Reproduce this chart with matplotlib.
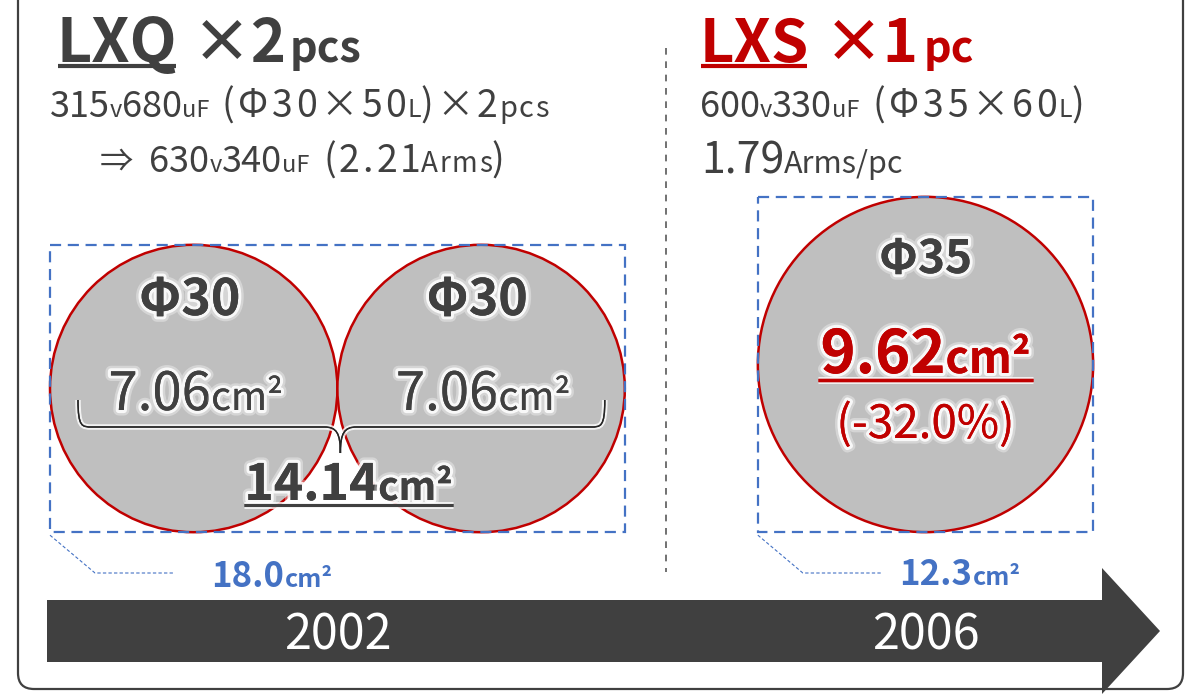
import matplotlib
matplotlib.use("Agg")
import matplotlib.pyplot as plt
import matplotlib.patheffects as pe
from matplotlib.patches import Circle, Rectangle, FancyBboxPatch, Polygon, PathPatch
from matplotlib.path import Path

# ---- data -------------------------------------------------------------
lxq_name = "LXQ"
lxq_count = ["×2", "pcs"]
lxq_rating = [("315", "v"), ("680", "uF")]
lxq_size = [("(Φ30×50", "L"), (")×2", "pcs")]
lxq_total_rating = [("630", "v"), ("340", "uF")]
lxq_total_ripple = [("(2.21", "Arms"), (")", "")]
lxq_diam = [30, 30]
lxq_area = [7.06, 7.06]
lxq_sum = 14.14
lxq_box = 18.0

lxs_name = "LXS"
lxs_count = ["×1", "pc"]
lxs_rating = [("600", "v"), ("330", "uF")]
lxs_size = [("(Φ35×60", "L"), (")", "")]
lxs_ripple = [("1.79", "Arms/pc")]
lxs_diam = 35
lxs_area = 9.62
lxs_change = -32.0
lxs_box = 12.3

years = ["2002", "2006"]

# ---- style ------------------------------------------------------------
GRAY = "#404040"
RED = "#C00000"
BLUE = "#4472C4"
FILL = "#BFBFBF"
FONT = ["Noto Sans CJK JP", "DejaVu Sans"]
PX_PER_MM = 9.58

fig = plt.figure(figsize=(11.9, 6.96), dpi=100)
ax = fig.add_axes([0, 0, 1, 1])
ax.set_xlim(0, 1190)
ax.set_ylim(696, 0)
ax.axis("off")
rend = fig.canvas.get_renderer()

glow = [pe.withStroke(linewidth=8, foreground="white", alpha=0.35),
        pe.withStroke(linewidth=4.5, foreground="white", alpha=0.85),
        pe.Normal()]


def runs(x, y, parts, ha="left", effects=None, z=5):
    """draw text pieces one after another on a common baseline.
    part = (text, size, weight, color[, gap before, letter spacing])"""
    placed = []
    cur = x
    for p in parts:
        s, size, weight, color = p[:4]
        gap = p[4] if len(p) > 4 else 0
        track = p[5] if len(p) > 5 else 0
        cur += gap
        if not s:
            continue
        pieces = list(s) if track else [s]
        for i, c in enumerate(pieces):
            t = ax.text(cur, y, c, fontsize=size, fontweight=weight, color=color,
                        family=FONT, ha="left", va="baseline", zorder=z)
            if effects:
                t.set_path_effects(effects)
            w = t.get_window_extent(rend).width
            placed.append([t, cur, w])
            cur += w + (track if i < len(pieces) - 1 else 0)
    if ha == "center":
        shift = -(cur - x) / 2
        for item in placed:
            item[1] += shift
            item[0].set_x(item[1])
    return [(item[1], item[1] + item[2]) for item in placed]


def pairs(spec, big, small, color=GRAY, gap=0, track=0, small_track=0):
    parts = []
    for i, (a, b) in enumerate(spec):
        parts.append((a, big, "normal", color, gap if i == 0 else 0, track))
        parts.append((b, small, "normal", color, 0, small_track))
    return parts


# ---- frame and divider ------------------------------------------------
ax.add_patch(FancyBboxPatch((18, -60), 1165, 749, boxstyle="round,pad=0,rounding_size=16",
                            fc="none", ec=GRAY, lw=1.6, zorder=1))
ax.plot([666, 666], [48, 572], color="#595959", lw=1.2, ls=(0, (4, 4)), zorder=1)

# ---- circles ----------------------------------------------------------
r_q = [d / 2 * PX_PER_MM for d in lxq_diam]
cy_q = 388.5
cx_q = [50 + r_q[0], 50 + r_q[0] + r_q[0] + r_q[1]]
for cx, r in zip(cx_q, r_q):
    ax.add_patch(Circle((cx, cy_q), r, fc=FILL, ec=RED, lw=1.8, zorder=2))

r_s = lxs_diam / 2 * PX_PER_MM
cx_s, cy_s = 925.5, 364.5
ax.add_patch(Circle((cx_s, cy_s), r_s, fc=FILL, ec=RED, lw=1.8, zorder=2))

# dashed bounding boxes
qx0, qx1 = cx_q[0] - r_q[0], cx_q[1] + r_q[1]
qy0, qy1 = cy_q - r_q[0], cy_q + r_q[0]
ax.add_patch(Rectangle((qx0, qy0), qx1 - qx0, qy1 - qy0, fc="none", ec=BLUE, lw=1.6,
                       ls=(0, (5, 3)), zorder=3))
sx0, sx1 = cx_s - r_s, cx_s + r_s
sy0, sy1 = cy_s - r_s, cy_s + r_s
ax.add_patch(Rectangle((sx0, sy0), sx1 - sx0, sy1 - sy0, fc="none", ec=BLUE, lw=1.6,
                       ls=(0, (5, 3)), zorder=3))

# leader lines to box areas
for bx, by in [(qx0, qy1), (sx0, sy1)]:
    ax.plot([bx, bx + 45, bx + 125], [by + 3, 573, 573], color=BLUE, lw=0.8,
            ls=(0, (3, 2)), zorder=3)

# ---- brace under the two 7.06 values ----------------------------------
bl = cx_q[0] - r_q[0] + 28
br = cx_q[1] + r_q[1] - 20
bm = (cx_q[0] + cx_q[1]) / 2 + 3
yt, yh, yp = 400, 427, 453
verts = [(bl, yt), (bl, yh), (bl + 4, yh), (bl + 14, yh),
         (bm - 16, yh),
         (bm - 4, yh), (bm, yh + 6), (bm, yp),
         (bm, yh + 6), (bm + 4, yh), (bm + 16, yh),
         (br - 14, yh),
         (br - 4, yh), (br, yh), (br, yt)]
codes = [Path.MOVETO, Path.CURVE4, Path.CURVE4, Path.CURVE4,
         Path.LINETO,
         Path.CURVE4, Path.CURVE4, Path.CURVE4,
         Path.CURVE4, Path.CURVE4, Path.CURVE4,
         Path.LINETO,
         Path.CURVE4, Path.CURVE4, Path.CURVE4]
brace = PathPatch(Path(verts, codes), fc="none", ec="#262626", lw=1.0, zorder=4)
brace.set_path_effects([pe.withStroke(linewidth=4, foreground="white", alpha=0.8), pe.Normal()])
ax.add_patch(brace)

# ---- header texts -----------------------------------------------------
ext = runs(57, 62, [(lxq_name, 44, "bold", GRAY), (lxq_count[0], 43, "bold", GRAY, 14),
                    (lxq_count[1], 31, "bold", GRAY, 3)])
ax.plot([ext[0][0] + 1, ext[0][1] - 2], [66, 66], color=GRAY, lw=3, solid_capstyle="butt")

ext = runs(700, 62, [(lxs_name, 43, "bold", RED), (lxs_count[0], 43, "bold", RED, 14),
                     (lxs_count[1], 31, "bold", RED, 5)])
ax.plot([ext[0][0] + 1, ext[0][1] - 2], [66, 66], color=RED, lw=3, solid_capstyle="butt")

runs(50, 117, pairs(lxq_rating, 26, 17)
     + [(lxq_size[0][0], 27, "normal", GRAY, 12, 3.5), (lxq_size[0][1], 18, "normal", GRAY, 1),
        (lxq_size[1][0], 27, "normal", GRAY, 0, 3), (lxq_size[1][1], 21, "normal", GRAY, 2, 1)])
runs(100, 172, [("⇒", 24, "normal", GRAY)]
     + pairs(lxq_total_rating, 26, 17, gap=16)
     + pairs(lxq_total_ripple, 27, 20, gap=14, track=3, small_track=1.5))
runs(700, 117, pairs(lxs_rating, 26, 17)
     + [(lxs_size[0][0], 27, "normal", GRAY, 13, 3.5), (lxs_size[0][1], 18, "normal", GRAY, 1),
        (lxs_size[1][0], 27, "normal", GRAY)])
runs(701, 173, pairs(lxs_ripple, 31, 22))

# ---- circle labels ----------------------------------------------------
for cx, d, a in zip(cx_q, lxq_diam, lxq_area):
    runs(cx - 4, 315, [("Φ%d" % d, 36, "bold", GRAY)], ha="center", effects=glow)
    runs(cx + 2, 410, [("%.2f" % a, 38, "normal", GRAY), ("cm²", 28, "normal", GRAY)],
         ha="center", effects=glow)

ext = runs(bm + 8, 500, [("%.2f" % lxq_sum, 36, "bold", GRAY), ("cm²", 28, "bold", GRAY)],
           ha="center", effects=glow)
ul = ax.plot([ext[0][0], ext[-1][1]], [505, 505], color=GRAY, lw=2.2, zorder=5,
             solid_capstyle="butt")[0]
ul.set_path_effects([pe.withStroke(linewidth=5, foreground="white", alpha=0.8), pe.Normal()])

runs(cx_s, 273, [("Φ%d" % lxs_diam, 33, "bold", GRAY)], ha="center", effects=glow)
ext = runs(cx_s, 373, [("%.2f" % lxs_area, 43, "bold", RED), ("cm²", 32, "bold", RED)],
           ha="center", effects=glow)
ul = ax.plot([ext[0][0] - 2, ext[-1][1] + 2], [380, 380], color=RED, lw=2.4, zorder=5,
             solid_capstyle="butt")[0]
ul.set_path_effects([pe.withStroke(linewidth=5, foreground="white", alpha=0.8), pe.Normal()])
runs(cx_s, 438, [("(%.1f%%)" % lxs_change, 33, "normal", RED)], ha="center", effects=glow)

# box areas
runs(272, 587, [("%.1f" % lxq_box, 25, "bold", BLUE), ("cm²", 18, "bold", BLUE)], ha="center")
runs(960, 585, [("%.1f" % lxs_box, 25, "bold", BLUE), ("cm²", 18, "bold", BLUE)], ha="center")

# ---- timeline arrow ---------------------------------------------------
arrow = [(47, 600), (1102, 600), (1102, 568), (1160, 631), (1102, 694),
         (1102, 662), (47, 662)]
ax.add_patch(Polygon(arrow, closed=True, fc=GRAY, ec="none", zorder=2))
runs((qx0 + qx1) / 2, 649, [(years[0], 35, "normal", "white")], ha="center")
runs(cx_s, 649, [(years[1], 35, "normal", "white")], ha="center")

fig.savefig("out.png", dpi=100)
